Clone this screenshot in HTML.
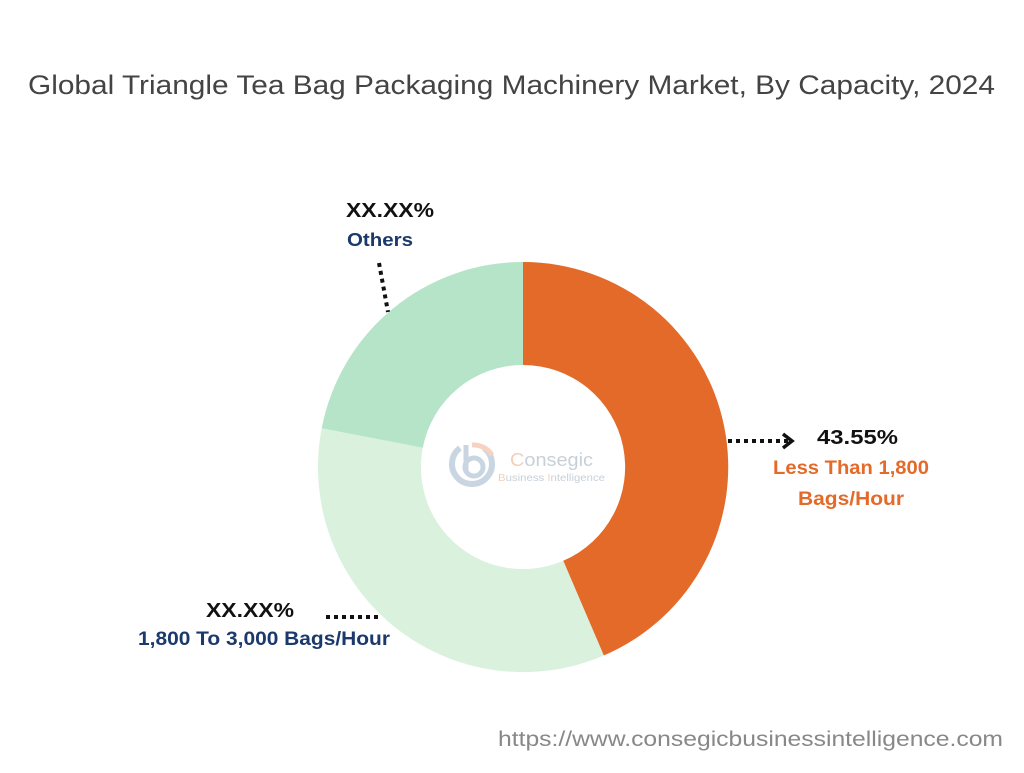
<!DOCTYPE html>
<html><head><style>
body{margin:0;width:1024px;height:768px;background:#fff;overflow:hidden;font-family:"Liberation Sans",sans-serif}
</style></head><body>
<svg width="1024" height="768" xmlns="http://www.w3.org/2000/svg" font-family="Liberation Sans, sans-serif">
<text x="28" y="94" font-size="27" fill="#444" textLength="967" lengthAdjust="spacingAndGlyphs">Global Triangle Tea Bag Packaging Machinery Market, By Capacity, 2024</text>
<path d="M523,262 A205,205 0 0 1 603.8,655.5 L563.2,560.8 A102,102 0 0 0 523,365 Z" fill="#e46a29"/>
<path d="M603.8,655.5 A205,205 0 0 1 321.7,428.2 L422.8,447.7 A102,102 0 0 0 563.2,560.8 Z" fill="#daf2dd"/>
<path d="M321.7,428.2 A205,205 0 0 1 523,262 L523,365 A102,102 0 0 0 422.8,447.7 Z" fill="#b5e4c8"/>
<g opacity="0.55">
<path d="M460,448 A20,20 0 1 0 484,448" stroke="#9fb3cc" stroke-width="6" fill="none"/>
<circle cx="474" cy="467" r="9" stroke="#9fb3cc" stroke-width="5" fill="none"/>
<line x1="466" y1="445" x2="466" y2="470" stroke="#9fb3cc" stroke-width="5"/>
<path d="M472,445 A22,22 0 0 1 492,455" stroke="#f0b090" stroke-width="5" fill="none"/>
<text x="510" y="466" font-size="18" fill="#9aa8b8" textLength="83" lengthAdjust="spacingAndGlyphs"><tspan fill="#eea780">C</tspan>onsegic</text>
<text x="498" y="481" font-size="10" fill="#9aa8b8" textLength="107" lengthAdjust="spacingAndGlyphs"><tspan fill="#eea780">B</tspan>usiness <tspan fill="#eea780">I</tspan>ntelligence</text>
</g>
<text x="346" y="217" font-size="20" font-weight="bold" fill="#111" textLength="88" lengthAdjust="spacingAndGlyphs">XX.XX%</text>
<text x="347" y="246" font-size="18" font-weight="bold" fill="#1b3a6b" textLength="66" lengthAdjust="spacingAndGlyphs">Others</text>
<line x1="379" y1="263" x2="388" y2="312" stroke="#111" stroke-width="4" stroke-dasharray="4,4"/>
<line x1="728" y1="441" x2="788" y2="441" stroke="#111" stroke-width="4" stroke-dasharray="4,4"/>
<path d="M783,434 L792,441 L783,448" stroke="#111" stroke-width="3.5" fill="none"/>
<text x="817" y="444" font-size="20" font-weight="bold" fill="#111" textLength="81" lengthAdjust="spacingAndGlyphs">43.55%</text>
<text x="773" y="474" font-size="19" font-weight="bold" fill="#e46a29" textLength="156" lengthAdjust="spacingAndGlyphs">Less Than 1,800</text>
<text x="798" y="505" font-size="19" font-weight="bold" fill="#e46a29" textLength="106" lengthAdjust="spacingAndGlyphs">Bags/Hour</text>
<text x="206" y="617" font-size="20" font-weight="bold" fill="#111" textLength="88" lengthAdjust="spacingAndGlyphs">XX.XX%</text>
<line x1="326" y1="617" x2="382" y2="617" stroke="#111" stroke-width="4" stroke-dasharray="4,4"/>
<text x="138" y="645" font-size="19" font-weight="bold" fill="#1b3a6b" textLength="252" lengthAdjust="spacingAndGlyphs">1,800 To 3,000 Bags/Hour</text>
<text x="498" y="746" font-size="21" fill="#888" textLength="505" lengthAdjust="spacingAndGlyphs">https://www.consegicbusinessintelligence.com</text>
</svg>
</body></html>
